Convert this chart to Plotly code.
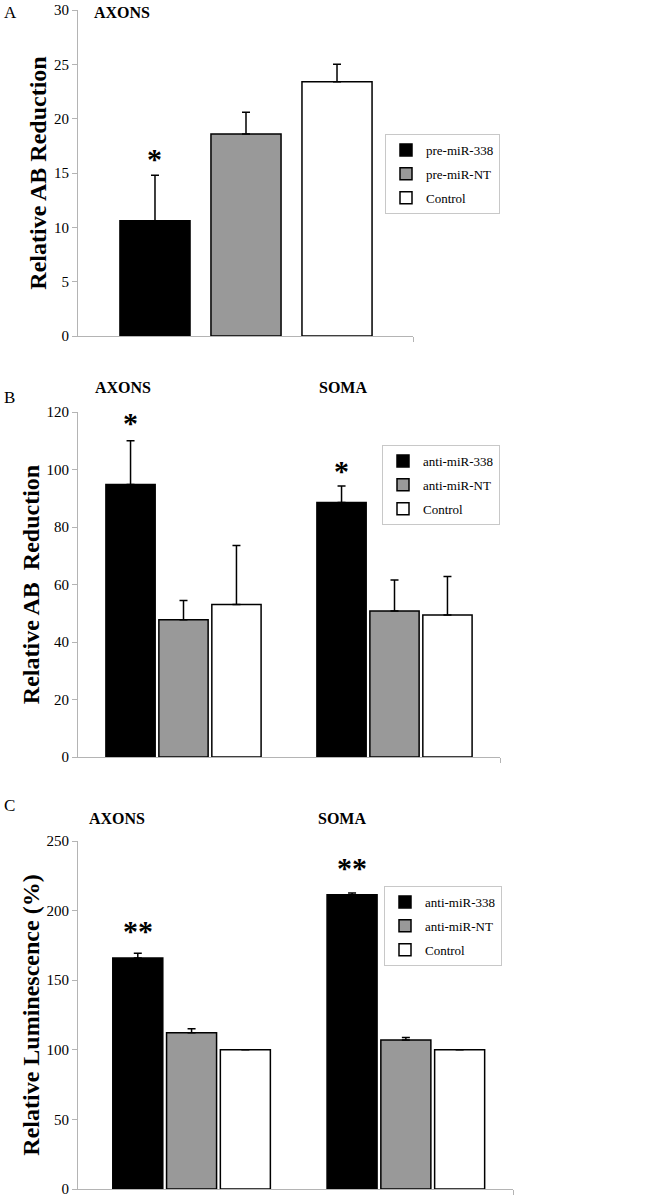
import plotly.graph_objects as go

# ---------------- data ----------------
# Panel A
a_labels = ["pre-miR-338", "pre-miR-NT", "Control"]
a_values = [10.6, 18.6, 23.4]
a_sem = [4.2, 2.0, 1.6]

# Panel B
b_groups = ["AXONS", "SOMA"]
b_series = ["anti-miR-338", "anti-miR-NT", "Control"]
b_values = {
    "anti-miR-338": [94.8, 88.5],
    "anti-miR-NT": [47.7, 50.8],
    "Control": [53.0, 49.4],
}
b_sem = {
    "anti-miR-338": [15.2, 5.8],
    "anti-miR-NT": [6.7, 10.8],
    "Control": [20.6, 13.4],
}

# Panel C
c_groups = ["AXONS", "SOMA"]
c_series = ["anti-miR-338", "anti-miR-NT", "Control"]
c_values = {
    "anti-miR-338": [165.9, 211.4],
    "anti-miR-NT": [112.3, 107.0],
    "Control": [100.0, 100.0],
}
c_sem = {
    "anti-miR-338": [3.4, 1.2],
    "anti-miR-NT": [2.9, 1.9],
    "Control": [0.0, 0.0],
}

colors = ["#000000", "#999999", "#ffffff"]

W, H = 649, 1199
FONT = "Liberation Serif"
AXC = "#b4b4b4"


def px_x(p):
    return p / W


def px_y(p):
    return 1 - p / H


fig = go.Figure()

# ---- Panel A ----
for i, lab in enumerate(a_labels):
    fig.add_trace(go.Bar(
        x=[lab], y=[a_values[i]], name=lab,
        marker=dict(color=colors[i], line=dict(color="black", width=1.5)),
        error_y=dict(type="data", symmetric=False, array=[a_sem[i]], arrayminus=[0],
                     color="black", thickness=1.5, width=4),
        offsetgroup="A", width=0.77,
        xaxis="x", yaxis="y", legend="legend", legendgroup="a" + str(i),
    ))

# ---- Panel B ----
for i, s in enumerate(b_series):
    fig.add_trace(go.Bar(
        x=b_groups, y=b_values[s], name=s,
        marker=dict(color=colors[i], line=dict(color="black", width=1.5)),
        error_y=dict(type="data", symmetric=False, array=b_sem[s], arrayminus=[0, 0],
                     color="black", thickness=1.5, width=4),
        xaxis="x2", yaxis="y2", legend="legend2", legendgroup="b" + str(i),
    ))

# ---- Panel C ----
for i, s in enumerate(c_series):
    fig.add_trace(go.Bar(
        x=c_groups, y=c_values[s], name=s,
        marker=dict(color=colors[i], line=dict(color="black", width=1.5)),
        error_y=dict(type="data", symmetric=False, array=c_sem[s], arrayminus=[0, 0],
                     color="black", thickness=1.5, width=4),
        xaxis="x3", yaxis="y3", legend="legend3", legendgroup="c" + str(i),
    ))

tickfont = dict(family=FONT, size=15, color="black")
titlefont = dict(family=FONT, size=24, color="black", weight="bold")


def yax(domain, rng, dtick, title, anchor):
    return dict(domain=domain, range=rng, dtick=dtick, anchor=anchor,
                automargin=False,
                showline=True, linecolor=AXC, linewidth=1,
                ticks="outside", ticklen=5, tickcolor=AXC,
                showgrid=False, zeroline=False, tickfont=tickfont,
                title=dict(text=title, font=titlefont, standoff=0))


def xax(domain, rng, anchor):
    return dict(domain=domain, range=rng, anchor=anchor,
                automargin=False,
                showline=True, linecolor=AXC, linewidth=1,
                tickmode="array", tickvals=[rng[1]], ticktext=[""],
                ticks="outside", ticklen=5, tickcolor=AXC,
                showticklabels=False, showgrid=False, zeroline=False)


legfont = dict(family=FONT, size=13, color="black")


def leg(x, y):
    return dict(x=x, y=y, xanchor="left", yanchor="top", font=legfont,
                bordercolor="#c8c8c8", borderwidth=1, bgcolor="white",
                tracegroupgap=4, itemwidth=30, traceorder="grouped")


fig.update_layout(
    template="none",
    width=W, height=H,
    margin=dict(l=0, r=0, t=0, b=0, autoexpand=False),
    paper_bgcolor="white", plot_bgcolor="white",
    barmode="group", bargap=0.247, bargroupgap=0.07,
    xaxis=xax([px_x(78), px_x(413)], [-0.846, 2.835], "y"),
    yaxis=yax([px_y(336), px_y(10)], [0, 30], 5, "Relative AB Reduction", "x"),
    xaxis2=xax([px_x(78), px_x(500)], [-0.5, 1.5], "y2"),
    yaxis2=yax([px_y(757), px_y(412)], [0, 120], 20, "Relative AB\u00a0\u00a0Reduction", "x2"),
    xaxis3=xax([px_x(78), px_x(513)], [-0.53, 1.5], "y3"),
    yaxis3=yax([px_y(1189), px_y(841)], [0, 250], 50, "Relative Luminescence (%)", "x3"),
    legend=leg(px_x(385), px_y(134)),
    legend2=leg(px_x(382), px_y(445)),
    legend3=leg(px_x(384), px_y(886)),
    showlegend=True,
)

# panel letters and titles
ann_font_letter = dict(family=FONT, size=17, color="black")
ann_font_title = dict(family=FONT, size=16, color="black", weight="bold")
labels = [
    ("A", 2, 12, ann_font_letter, "left"),
    ("B", 2, 397, ann_font_letter, "left"),
    ("C", 2, 805, ann_font_letter, "left"),
    ("AXONS", 122, 12, ann_font_title, "center"),
    ("AXONS", 123, 387, ann_font_title, "center"),
    ("SOMA", 343, 387, ann_font_title, "center"),
    ("AXONS", 117, 818, ann_font_title, "center"),
    ("SOMA", 342, 818, ann_font_title, "center"),
]
for text, x, y, f, xa in labels:
    fig.add_annotation(text=text, x=px_x(x), y=px_y(y), xref="paper", yref="paper",
                       xanchor=xa, yanchor="middle", showarrow=False, font=f)

# significance asterisks
star_font = dict(family=FONT, size=30, color="black", weight="bold")
slot = (1 - 0.247) / 3
fig.add_annotation(text="*", x=a_labels[0], y=16.9, xref="x", yref="y",
                   showarrow=False, font=star_font, yanchor="middle", yshift=-6)
fig.add_annotation(text="*", x=0 - slot, y=118.4, xref="x2", yref="y2",
                   showarrow=False, font=star_font, yanchor="middle", yshift=-6)
fig.add_annotation(text="*", x=1 - slot, y=101.6, xref="x2", yref="y2",
                   showarrow=False, font=star_font, yanchor="middle", yshift=-6)
fig.add_annotation(text="**", x=0 - slot, y=189.9, xref="x3", yref="y3",
                   showarrow=False, font=star_font, yanchor="middle", yshift=-6)
fig.add_annotation(text="**", x=1 - slot, y=235.3, xref="x3", yref="y3",
                   showarrow=False, font=star_font, yanchor="middle", yshift=-6)

fig.write_html("out.html", config={"displayModeBar": False},
               post_script="document.body.style.margin='0';")
